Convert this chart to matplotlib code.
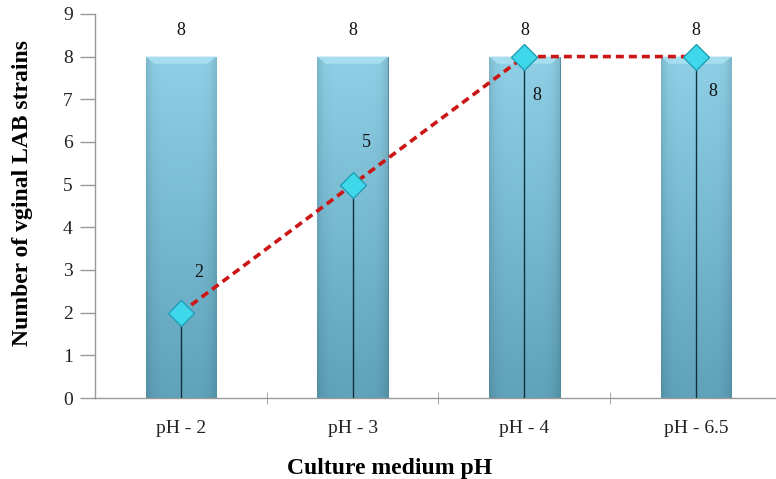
import matplotlib
matplotlib.use("Agg")
import matplotlib.pyplot as plt
import numpy as np
from matplotlib.colors import to_rgb

categories = ["pH - 2", "pH - 3", "pH - 4", "pH - 6.5"]
tested = [8, 8, 8, 8]
surviving = [2, 5, 8, 8]

SERIF = ["Liberation Serif", "DejaVu Serif"]
plt.rcParams["font.family"] = SERIF

fig = plt.figure(figsize=(7.76, 4.79), dpi=100, facecolor="white")
ax = fig.add_axes([0.1224, 0.169, 0.8776, 0.802])

x = np.arange(len(categories))
bar_w = 0.41
bars = ax.bar(x, tested, width=bar_w, color="#7fbcd6",
              edgecolor="#4f8aa2", linewidth=0.7, zorder=2)

# gradient fill: lighter at the top, a little darker near the sides
top, bottom = np.array(to_rgb("#8fd0e6")), np.array(to_rgb("#5fa2ba"))
vy = np.linspace(0, 1, 80)[:, None, None]
vx = np.linspace(-1, 1, 60)[None, :, None]
rgb = bottom + (top - bottom) * vy
rgb = rgb * (1 - 0.12 * np.abs(vx) ** 6)
rgb = np.clip(rgb, 0, 1)
for b in bars:
    x0, y0 = b.get_x(), b.get_y()
    w, h = b.get_width(), b.get_height()
    im = ax.imshow(rgb, aspect="auto", origin="lower",
                   extent=[x0, x0 + w, y0, y0 + h], zorder=2.1)
    im.set_clip_path(b)
    # bevel highlight on top
    d = 0.05
    ax.fill([x0, x0 + w, x0 + w - d, x0 + d], [y0 + h, y0 + h, y0 + h - 0.17, y0 + h - 0.17],
            color="#a6def0", zorder=2.2, linewidth=0)
for i, v in enumerate(tested):
    ax.annotate(str(v), (x[i], v), xytext=(0, 13), textcoords="offset points",
                ha="center", va="bottom", fontsize=13, color="#111111")

# drop lines from each point to the axis
ax.vlines(x, 0, surviving, colors="#12303c", linewidth=1.0, zorder=3)
ax.plot(x, surviving, linestyle=(0, (2.2, 1.4)), color="#cc1515",
        linewidth=2.6, zorder=4)
ax.plot(x, surviving, linestyle="none", marker="D", markersize=13.5,
        markerfacecolor="#3fd8ea", markeredgecolor="#1f9fb5",
        markeredgewidth=1.0, zorder=5)
offsets = [(13, 29), (10, 30), (9, -28), (12, -25)]
for i, v in enumerate(surviving):
    dx, dy = offsets[i]
    ax.annotate(str(v), (x[i], v), xytext=(dx, dy), textcoords="offset points",
                ha="center", va="center", fontsize=13, color="#111111")

ax.set_xlim(-0.5, 3.465)
ax.set_ylim(0, 9)
ax.set_yticks(range(0, 10))
ax.set_xticks(x)
ax.set_xticklabels(categories)
ax.set_xticks(np.arange(0.5, 3.5, 1), minor=True)
ax.tick_params(axis="y", which="major", direction="out", length=11,
               width=1.0, color="#999999", labelsize=14, labelcolor="#222222",
               pad=5)
ax.tick_params(axis="x", which="major", length=0, labelsize=14,
               labelcolor="#222222", pad=16)
ax.tick_params(axis="x", which="minor", direction="inout", length=9,
               color="#999999")
for side in ("top", "right"):
    ax.spines[side].set_visible(False)
for side in ("left", "bottom"):
    ax.spines[side].set_color("#999999")
    ax.spines[side].set_linewidth(1.0)

ax.set_ylabel("Number of vginal LAB strains", fontsize=17, fontweight="bold")
ax.set_xlabel("Culture medium pH", fontsize=17, fontweight="bold")
ax.yaxis.set_label_coords(-0.091, 0.535)
ax.xaxis.set_label_coords(0.433, -0.155)

fig.savefig("out.png", dpi=100, facecolor="white")
